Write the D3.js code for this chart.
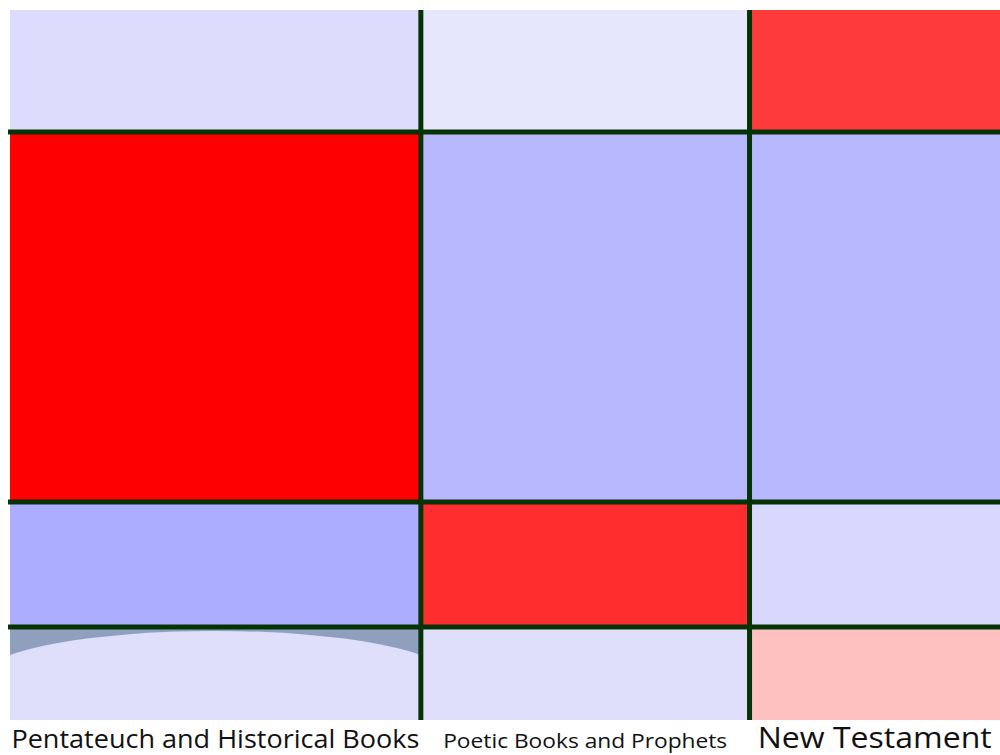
<!DOCTYPE html>
<html>
<head>
<meta charset="utf-8">
<script src="https://d3js.org/d3.v7.min.js"></script>
<style>
  body { margin: 0; background: #fff; }
  svg { display: block; }
</style>
</head>
<body>
<svg width="1000" height="755"></svg>
<script>
var svg = d3.select("svg"),
    width = 1000,
    height = 755;

// the data - column groups, widths of each column and heights of each row band
var columns = ["Pentateuch and Historical Books", "Poetic Books and Prophets", "New Testament"];
var colShares = [0.415, 0.332, 0.253];
var rowShares = [0.172, 0.521, 0.176, 0.131];
// fill for each cell, row by row
var cellFill = [
  ["#dcdcfd", "#e6e6fd", "#ff3a3a"],
  ["#ff0000", "#b8b8ff", "#b8b8ff"],
  ["#adadff", "#ff2d2d", "#d8d8fe"],
  ["#dfdffc", "#dfdffc", "#ffc0c0"]
];
// label sizing, fitted to the column
var labelSize = [25, 20, 29];
var labelLength = [408, 284, 234];

var x = d3.scaleLinear().domain([0, 1]).range([10, 1000]);
var y = d3.scaleLinear().domain([0, 1]).range([10, 720]);

// cumulative edges
var colEdges = [0], rowEdges = [0];
colShares.forEach(function(d, i) { colEdges.push(colEdges[i] + d); });
rowShares.forEach(function(d, i) { rowEdges.push(rowEdges[i] + d); });
colEdges[colEdges.length - 1] = 1;
rowEdges[rowEdges.length - 1] = 1;

var cells = [];
cellFill.forEach(function(row, r) {
  row.forEach(function(c, k) {
    cells.push({r: r, c: k, fill: c});
  });
});

var defs = svg.append("defs");

//////////// CELLS ////////////
svg.append("g").attr("class", "cells")
  .selectAll("rect")
  .data(cells)
  .enter().append("rect")
    .attr("x", function(d) { return x(colEdges[d.c]); })
    .attr("y", function(d) { return y(rowEdges[d.r]); })
    .attr("width", function(d) { return x(colEdges[d.c + 1]) - x(colEdges[d.c]); })
    .attr("height", function(d) { return y(rowEdges[d.r + 1]) - y(rowEdges[d.r]); })
    .attr("fill", function(d) { return d.fill; });

// the odd shaded cap in the bottom left cell
var bx0 = x(colEdges[0]), bx1 = x(colEdges[1]),
    by0 = y(rowEdges[3]), by1 = y(rowEdges[4]);
defs.append("clipPath").attr("id", "capclip")
  .append("rect")
    .attr("x", bx0).attr("y", by0)
    .attr("width", bx1 - bx0).attr("height", by1 - by0);
var cap = svg.append("g").attr("clip-path", "url(#capclip)");
cap.append("rect")
    .attr("x", bx0).attr("y", by0)
    .attr("width", bx1 - bx0).attr("height", by1 - by0)
    .attr("fill", "#8fa0bf");
cap.append("ellipse")
    .attr("cx", (bx0 + bx1) / 2)
    .attr("cy", by0 + 49)
    .attr("rx", 232)
    .attr("ry", 45)
    .attr("fill", cellFill[3][0]);
cap.append("rect")
    .attr("x", bx0).attr("y", by0 + 49)
    .attr("width", bx1 - bx0).attr("height", by1 - by0)
    .attr("fill", cellFill[3][0]);

//////////// GRID LINES ////////////
var lines = svg.append("g").attr("class", "gridlines")
    .attr("stroke", "#063306")
    .attr("stroke-width", 5);

lines.selectAll(".h")
  .data(rowEdges.slice(1, -1))
  .enter().append("line")
    .attr("class", "h")
    .attr("x1", 8).attr("x2", width)
    .attr("y1", function(d) { return y(d); })
    .attr("y2", function(d) { return y(d); });

lines.selectAll(".v")
  .data(colEdges.slice(1, -1))
  .enter().append("line")
    .attr("class", "v")
    .attr("y1", y(0)).attr("y2", y(1))
    .attr("x1", function(d) { return x(d); })
    .attr("x2", function(d) { return x(d); });

//////////// LABELS ////////////
svg.append("g").attr("class", "labels")
  .selectAll("text")
  .data(columns)
  .enter().append("text")
    .attr("x", function(d, i) { return (x(colEdges[i]) + x(colEdges[i + 1])) / 2; })
    .attr("y", 748)
    .attr("text-anchor", "middle")
    .attr("font-family", "'Open Sans', 'Noto Sans', sans-serif")
    .attr("font-size", function(d, i) { return labelSize[i]; })
    .attr("textLength", function(d, i) { return labelLength[i]; })
    .attr("lengthAdjust", "spacingAndGlyphs")
    .attr("fill", "#111")
    .text(function(d) { return d; });
</script>
</body>
</html>
